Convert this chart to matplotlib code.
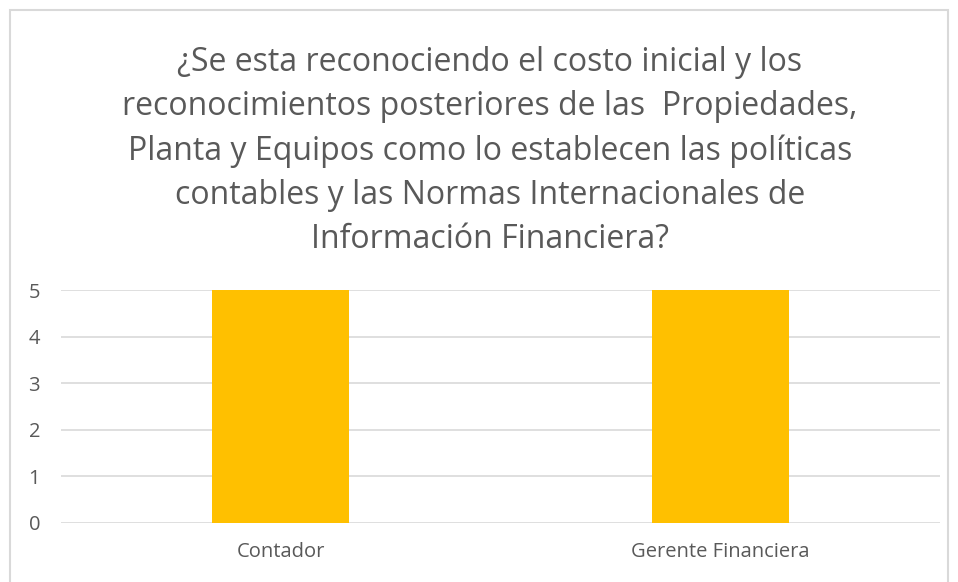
import matplotlib.pyplot as plt
from matplotlib.patches import Rectangle

categorias = ["Contador", "Gerente Financiera"]
valores = [5, 5]
yticks = [0, 1, 2, 3, 4, 5]
titulo = ("¿Se esta reconociendo el costo inicial y los\n"
          "reconocimientos posteriores de las  Propiedades,\n"
          "Planta y Equipos como lo establecen las políticas\n"
          "contables y las Normas Internacionales de\n"
          "Información Financiera?")

plt.rcParams['font.family'] = ['Open Sans', 'DejaVu Sans']

W, H = 958, 582
fig = plt.figure(figsize=(W / 100, H / 100), dpi=100)

# chart border
fig.patches.append(Rectangle((9.5 / W, -0.01), (948 - 9.5) / W, 1 - 9.5 / H + 0.01,
                             transform=fig.transFigure, fill=False,
                             edgecolor='#d9d9d9', linewidth=1.5))

ax = fig.add_axes([61 / W, 1 - 523 / H, (940 - 61) / W, (523 - 290) / H])
ax.bar(range(len(categorias)), valores, width=0.312, color='#ffc000', zorder=3)
ax.set_xlim(-0.5, len(categorias) - 0.5)
ax.set_ylim(0, 5)
ax.set_yticks(yticks)
ax.set_xticks(range(len(categorias)))
ax.set_xticklabels(categorias)
ax.grid(axis='y', color='#d9d9d9', linewidth=1.2, zorder=0)
ax.set_axisbelow(True)
for s in ax.spines.values():
    s.set_visible(False)
ax.tick_params(length=0, labelsize=14.5, colors='#595959')
ax.tick_params(axis='y', pad=15)
ax.tick_params(axis='x', pad=14)

fig.text(490 / W, 1 - 151 / H, titulo, ha='center', va='center',
         fontsize=23, color='#595959', linespacing=1.44)

plt.savefig('out.png', dpi=100)
